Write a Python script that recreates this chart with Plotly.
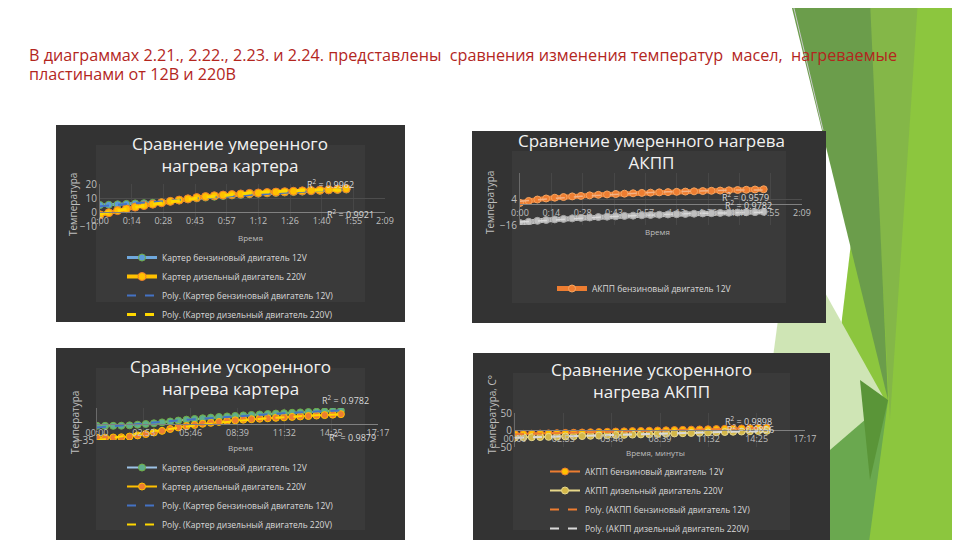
import numpy as np
import plotly.graph_objects as go

# ---------------- DATA ----------------
# Chart 1: moderate heating, crankcase (time in minutes)
t1 = [0, 4, 8, 12, 16, 20, 24, 28, 32, 36, 40, 44, 48, 52, 56, 60, 64, 68, 72, 76, 80, 84, 88, 92, 96, 100, 104, 108, 112]
c1_petrol12 = [5, 5.2, 5.5, 5.8, 6.1, 6.3, 6.6, 7, 7.5, 8.2, 9, 9.7, 10.3, 10.9, 11.4, 11.8, 12.2, 12.6, 13, 13.3, 13.6, 13.9, 14.2, 14.5, 14.8, 15.1, 15.4, 15.7, 16]
c1_diesel220 = [-2, -0.5, 1, 2.3, 3.5, 4.6, 5.6, 6.6, 7.6, 8.5, 9.4, 10.3, 11, 11.6, 12.1, 12.5, 12.9, 13.3, 13.6, 13.9, 14.2, 14.5, 14.8, 15.1, 15.3, 15.6, 15.9, 16.2, 16.6]

# Chart 2: moderate heating, automatic gearbox
t2 = [0, 4, 8, 12, 16, 20, 24, 28, 32, 36, 40, 44, 48, 52, 56, 60, 64, 68, 72, 76, 80, 84, 88, 92, 96, 100, 104, 108, 112]
c2_petrol12 = [1, 2.5, 3.6, 4.4, 5, 5.5, 6, 6.4, 6.8, 7.2, 7.5, 7.8, 8.1, 8.4, 8.7, 8.9, 9.1, 9.3, 9.5, 9.7, 9.9, 10.1, 10.3, 10.5, 10.7, 10.9, 11.1, 11.3, 11.5]
c2_diesel220 = [-14.5, -13.5, -12.8, -12.2, -11.7, -11.3, -10.9, -10.5, -10.2, -9.9, -9.6, -9.3, -9.0, -8.8, -8.5, -8.3, -8.1, -7.9, -7.7, -7.5, -7.3, -7.1, -6.9, -6.7, -6.6, -6.4, -6.2, -6.1, -5.9]

# Chart 3: accelerated heating, crankcase
t3 = [0, 0.5, 1, 1.5, 2, 2.5, 3, 3.5, 4, 4.5, 5, 5.5, 6, 6.5, 7, 7.5, 8, 8.5, 9, 9.5, 10, 10.5, 11, 11.5, 12, 12.5, 13, 13.5, 14, 14.5, 15]
c3_petrol12 = [-4, -4, -4, -3.8, -3, -1.5, 0, 1.5, 3.5, 5.5, 7.5, 9.5, 11, 12.5, 14, 15.3, 16.5, 17.7, 18.8, 19.8, 20.8, 21.8, 22.8, 23.7, 24.6, 25.4, 26.2, 27, 27.7, 28.4, 29]
c3_diesel220 = [-30, -30, -29.5, -29, -27.5, -25, -22, -18.5, -15, -11, -7.5, -4.5, -2, 0.5, 2.5, 4.5, 6.5, 8, 9.5, 10.5, 11.5, 12.5, 13.5, 14.5, 15.5, 16.5, 17.5, 18.5, 19.5, 20.5, 21.5]

# Chart 4: accelerated heating, automatic gearbox
t4 = [0, 0.5, 1, 1.5, 2, 2.5, 3, 3.5, 4, 4.5, 5, 5.5, 6, 6.5, 7, 7.5, 8, 8.5, 9, 9.5, 10, 10.5, 11, 11.5, 12, 12.5, 13, 13.5, 14, 14.5, 15]
c4_petrol12 = [-12, -11.5, -11, -10.5, -10, -9.3, -8.6, -8, -7.3, -6.6, -6, -5.3, -4.6, -4, -3.3, -2.7, -2, -1.4, -0.8, -0.2, 0.4, 1, 1.6, 2.2, 2.8, 3.4, 4, 4.6, 5.2, 5.8, 6.4]
c4_diesel220 = [-22, -21.6, -21.2, -20.7, -20.2, -19.6, -19, -18.4, -17.8, -17.1, -16.4, -15.7, -15, -14.3, -13.6, -12.9, -12.2, -11.5, -10.8, -10.1, -9.4, -8.7, -8, -7.3, -6.6, -5.9, -5.2, -4.5, -3.8, -3.1, -2.4]

# tick labels
ticks_slow = [0, 14.4, 28.8, 43.2, 57.6, 72, 86.4, 100.8, 115.2, 129.6]
ticks_slow_txt = ["0:00", "0:14", "0:28", "0:43", "0:57", "1:12", "1:26", "1:40", "1:55", "2:09"]
ticks_fast = [0, 2.88, 5.76, 8.64, 11.52, 14.4, 17.28]
ticks_fast_txt = ["00:00", "02:53", "05:46", "08:39", "11:32", "14:25", "17:17"]

r2_1 = ["0.9962", "0.9921"]
r2_2 = ["0.9579", "0.9782"]
r2_3 = ["0.9782", "0.9879"]
r2_4 = ["0.9898", "0.9856"]

# ---------------- HELPERS ----------------
W, H = 960, 540
OFF = 8  # page body margin offset of the rendered figure
def P(x):
    return (x - OFF) / W
def Q(y):
    return 1 - (y - OFF) / H

def poly_fit(t, v):
    c = np.polyfit(t, v, 2)
    return np.polyval(c, t)

FONT = "Open Sans"
fig = go.Figure()

def line_trace(t, v, ax, name, lcol, lw, mcol, mline, msize, legend, showlegend=True, dash=None, markers=True):
    fig.add_trace(go.Scatter(
        x=t, y=v, xaxis=ax[0], yaxis=ax[1], name=name, legend=legend, showlegend=showlegend,
        mode="lines+markers" if markers else "lines",
        line=dict(color=lcol, width=lw, dash=dash) if dash else dict(color=lcol, width=lw),
        marker=dict(color=mcol, size=msize, line=dict(color=mline, width=1)) if markers else None,
        hoverinfo="skip"))

# Chart 1
A1 = ("x", "y")
line_trace(t1, c1_petrol12, A1, "Картер бензиновый двигатель 12V", "#6fa8dc", 3, "#5b9bd5", "#70ad47", 7, "legend")
line_trace(t1, c1_diesel220, A1, "Картер дизельный двигатель 220V", "#ffc000", 4, "#ffc000", "#ed7d31", 8, "legend")
line_trace(t1, poly_fit(t1, c1_petrol12), A1, "Poly. (Картер бензиновый двигатель 12V)", "#4472c4", 2, None, None, 0, "legend", dash="dash", markers=False)
line_trace(t1, poly_fit(t1, c1_diesel220), A1, "Poly. (Картер дизельный двигатель 220V)", "#ffd700", 3, None, None, 0, "legend", dash="dash", markers=False)

# Chart 2
A2 = ("x2", "y2")
line_trace(t2, c2_petrol12, A2, "АКПП бензиновый двигатель 12V", "#ed7d31", 5, "#ed7d31", "#f4a460", 7, "legend2")
line_trace(t2, c2_diesel220, A2, "АКПП дизельный двигатель 220V", "#bfbfbf", 5, "#bfbfbf", "#a5a5a5", 7, "legend2", showlegend=False)
line_trace(t2, poly_fit(t2, c2_petrol12), A2, "Poly. (АКПП бензиновый двигатель 12V)", "#f4b183", 1.5, None, None, 0, "legend2", showlegend=False, dash="dash", markers=False)
line_trace(t2, poly_fit(t2, c2_diesel220), A2, "Poly. (АКПП дизельный двигатель 220V)", "#d9d9d9", 1.5, None, None, 0, "legend2", showlegend=False, dash="dash", markers=False)

# Chart 3
A3 = ("x3", "y3")
line_trace(t3, c3_petrol12, A3, "Картер бензиновый двигатель 12V", "#9dc3e6", 2, "#5fae8c", "#70ad47", 7, "legend3")
line_trace(t3, c3_diesel220, A3, "Картер дизельный двигатель 220V", "#ffc000", 2, "#ed7d31", "#ffc000", 7, "legend3")
line_trace(t3, poly_fit(t3, c3_petrol12), A3, "Poly. (Картер бензиновый двигатель 12V)", "#4472c4", 2, None, None, 0, "legend3", dash="dash", markers=False)
line_trace(t3, poly_fit(t3, c3_diesel220), A3, "Poly. (Картер дизельный двигатель 220V)", "#ffd700", 2, None, None, 0, "legend3", dash="dash", markers=False)

# Chart 4
A4 = ("x4", "y4")
line_trace(t4, c4_petrol12, A4, "АКПП бензиновый двигатель 12V", "#ed7d31", 2, "#ffc000", "#ed7d31", 7, "legend4")
line_trace(t4, c4_diesel220, A4, "АКПП дизельный двигатель 220V", "#e6d78a", 2, "#d4b84a", "#e6d78a", 7, "legend4")
line_trace(t4, poly_fit(t4, c4_petrol12), A4, "Poly. (АКПП бензиновый двигатель 12V)", "#ed7d31", 2, None, None, 0, "legend4", dash="dash", markers=False)
line_trace(t4, poly_fit(t4, c4_diesel220), A4, "Poly. (АКПП дизельный двигатель 220V)", "#d9d9d9", 2, None, None, 0, "legend4", dash="dash", markers=False)

# ---------------- AXES ----------------
def xax(d0, d1, rng, tv, tt, zero_px):
    return dict(domain=[P(d0), P(d1)], range=rng, tickvals=tv, ticktext=tt, anchor="free",
                position=Q(zero_px), showline=True, linecolor="#808080", linewidth=1,
                showgrid=True, gridcolor="#474747", zeroline=False, ticks="", automargin=False,
                tickfont=dict(family=FONT, size=9, color="#bfbfbf"), fixedrange=True)

def yax(top, bot, rng, tv):
    return dict(domain=[Q(bot), Q(top)], range=rng, tickvals=tv, showline=True,
                linecolor="#6a6a6a", showgrid=True, gridcolor="#4d4d4d", zeroline=False,
                ticks="", automargin=False,
                tickfont=dict(family=FONT, size=10, color="#bfbfbf"), fixedrange=True)

layout = dict(
    width=W, height=H, margin=dict(l=0, r=0, t=0, b=0, autoexpand=False),
    paper_bgcolor="white", plot_bgcolor="rgba(0,0,0,0)",
    xaxis=xax(100, 385, [0, 129.6], ticks_slow, ticks_slow_txt, 212),
    yaxis=dict(yax(184, 226, [-10, 20], [-10, 0, 10, 20]), anchor="x"),
    xaxis2=xax(520, 802, [0, 129.6], ticks_slow, ticks_slow_txt, 204),
    yaxis2=dict(yax(173, 225, [-16, 24], [-16, 4]), anchor="x2"),
    xaxis3=xax(97, 378, [0, 17.28], ticks_fast, ticks_fast_txt, 424),
    yaxis3=dict(yax(408, 440, [-35, 35], [-35]), anchor="x3"),
    xaxis4=xax(515, 805, [0, 17.28], ticks_fast, ticks_fast_txt, 430),
    yaxis4=dict(yax(413, 447, [-50, 50], [-50, 0, 50]), anchor="x4"),
)

def leg(x, y):
    return dict(x=P(x), y=Q(y), xanchor="left", yanchor="top", bgcolor="rgba(0,0,0,0)",
                font=dict(family=FONT, size=8.5, color="#d9d9d9"), itemwidth=30,
                tracegroupgap=0, orientation="v")

layout["legend"] = leg(122, 243)
layout["legend2"] = leg(552, 274)
layout["legend3"] = leg(122, 453)
layout["legend4"] = leg(545, 457)
fig.update_layout(**layout)

# ---------------- SHAPES (decor + panels) ----------------
shapes = []
def polyshape(pts, color):
    path = "M " + " L ".join(f"{P(x):.4f},{Q(y):.4f}" for x, y in pts) + " Z"
    shapes.append(dict(type="path", xref="paper", yref="paper", path=path,
                       fillcolor=color, line=dict(width=0), layer="below"))

polyshape([(880, 0), (975, 0), (975, 550), (830, 550), (830, 420)], "#8cc63e")
polyshape([(868, 0), (918, 0), (890, 420)], "#84b748")
polyshape([(790, 0), (870, 0), (888, 400)], "#6b9d4b")
polyshape([(790, 230), (885, 400), (835, 470), (770, 380)], "#cfe5b5")
polyshape([(888, 400), (868, 550), (830, 550), (830, 450)], "#6aa84f")
polyshape([(860, 380), (888, 400), (870, 480)], "#5a9538")
shapes.append(dict(type="line", xref="paper", yref="paper", x0=P(792), y0=Q(0), x1=P(823), y1=Q(130),
                   line=dict(color="#c8c8c8", width=1), layer="below"))

def panel(x0, y0, x1, y1):
    shapes.append(dict(type="rect", xref="paper", yref="paper", x0=P(x0), x1=P(x1), y0=Q(y1), y1=Q(y0),
                       fillcolor="#333333", line=dict(width=0), layer="below"))
    shapes.append(dict(type="rect", xref="paper", yref="paper", x0=P(x0 + 40), x1=P(x1 - 40), y0=Q(y1 - 20), y1=Q(y0 + 20),
                       fillcolor="rgba(80,80,80,0.25)", line=dict(width=0), layer="below"))

panel(56, 125, 405, 322)
panel(472, 131, 826, 323)
panel(56, 348, 405, 550)
panel(473, 353, 830, 550)
fig.update_layout(shapes=shapes)

# ---------------- TEXT ----------------
ann = []
def text(x, y, s, size, color, xanchor="center", angle=0, family=FONT, align="center"):
    ann.append(dict(x=P(x), y=Q(y), xref="paper", yref="paper", text=s, showarrow=False,
                    xanchor=xanchor, yanchor="middle", textangle=angle, align=align,
                    font=dict(family=family, size=size, color=color)))

text(27, 55, "В диаграммах 2.21., 2.22., 2.23. и 2.24. представлены \u00a0сравнения изменения температур \u00a0масел, \u00a0нагреваемые",
     16.2, "#b3261e", xanchor="left", align="left")
text(27, 74, "пластинами от 12В и 220В", 16.2, "#b3261e", xanchor="left", align="left")

text(230, 154, "Сравнение умеренного<br>нагрева картера", 17, "#f2f2f2")
text(651, 152, "Сравнение умеренного нагрева<br>АКПП", 17, "#f2f2f2")
text(230, 377, "Сравнение ускоренного<br>нагрева картера", 17, "#f2f2f2")
text(651, 380, "Сравнение ускоренного<br>нагрева АКПП", 17, "#f2f2f2")

text(73, 205, "Температура", 10, "#bfbfbf", angle=-90)
text(490, 203, "Температура", 10, "#bfbfbf", angle=-90)
text(75, 423, "Температура", 10, "#bfbfbf", angle=-90)
text(492, 415, "Температура, C°", 10, "#bfbfbf", angle=-90)

text(250, 237, "Время", 8, "#bfbfbf")
text(657, 231, "Время", 8, "#bfbfbf")
text(240, 447, "Время", 8, "#bfbfbf")
text(655, 452, "Время, минуты", 8, "#bfbfbf")

text(330, 184, "R<sup>2</sup> = " + r2_1[0], 9, "#d9d9d9")
text(350, 214, "R<sup>2</sup> = " + r2_1[1], 9, "#d9d9d9")
text(745, 197, "R<sup>2</sup> = " + r2_2[0], 9, "#d9d9d9")
text(748, 205, "R<sup>2</sup> = " + r2_2[1], 9, "#d9d9d9")
text(345, 400, "R<sup>2</sup> = " + r2_3[0], 9, "#d9d9d9")
text(352, 437, "R<sup>2</sup> = " + r2_3[1], 9, "#d9d9d9")
text(748, 421, "R<sup>2</sup> = " + r2_4[0], 9, "#d9d9d9")
text(750, 429, "R<sup>2</sup> = " + r2_4[1], 9, "#d9d9d9")

fig.update_layout(annotations=ann)
fig.write_html("out.html")
